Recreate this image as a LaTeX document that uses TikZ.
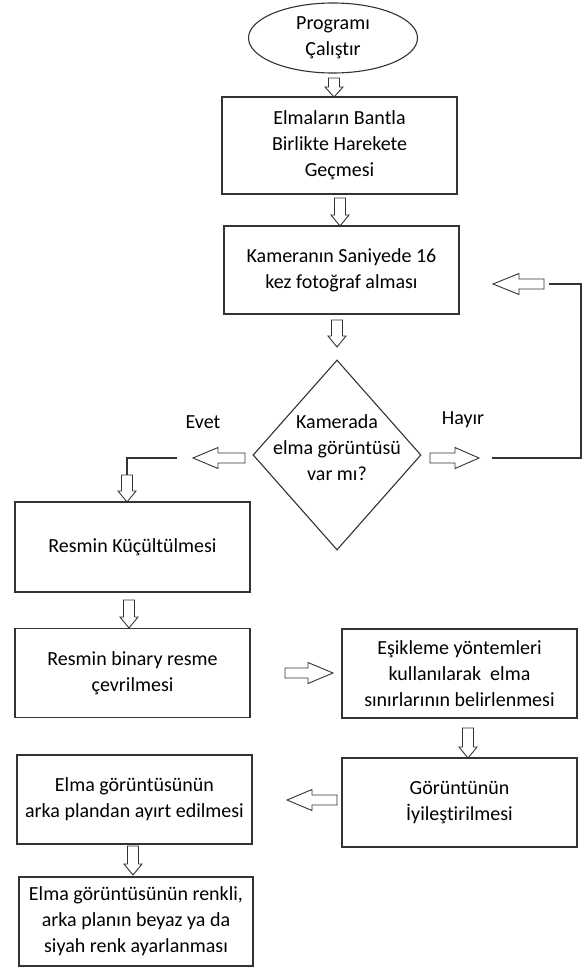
\documentclass[tikz,border=0pt]{standalone}
\usepackage{fontspec}
\setmainfont{Carlito}[Ligatures=NoCommon]
\usetikzlibrary{shapes.geometric,calc}
\tikzset{
  lc/.style={draw=black!80, line width=1.1pt},
  txt/.style={align=center, font=\fontsize{20}{26}\selectfont, inner sep=0pt, text=black},
  box/.style={lc, txt, rectangle, minimum width=235pt, minimum height=89pt},
  barrow/.style={draw=black!80, line width=0.9pt, fill=white, line join=miter},
  conn/.style={draw=black!80, line width=1.1pt},
}
\newcommand\blockarr[5]{%
  \coordinate (bah) at ($(#2)!#5!(#1)$);
  \draw[barrow] ($(#1)!#3!90:(#2)$) -- ($(bah)!#3!-90:(#1)$) -- ($(bah)!#4!-90:(#1)$) -- (#2) -- ($(bah)!#4!90:(#1)$) -- ($(bah)!#3!90:(#1)$) -- ($(#1)!#3!-90:(#2)$) -- cycle;}
\begin{document}
\begin{tikzpicture}[x=1pt,y=-1pt]
\useasboundingbox (0,0) rectangle (583,969);
% nodes
\node[lc, ellipse, minimum width=169pt, minimum height=70pt, txt] (ell) at (333,38) {Programı\\Çalıştır};
\node[box, minimum height=97pt] (b1) at (339.5,145.5) {Elmaların Bantla\\Birlikte Harekete\\Geçmesi};
\node[box, minimum height=88pt] (b2) at (341.5,270) {Kameranın Saniyede 16\\kez fotoğraf alması};
\node[lc, diamond, minimum width=168pt, minimum height=190pt, inner sep=0pt] (dia) at (337,455) {};
\node[txt] (diat) at (337,448) {Kamerada\\elma görüntüsü\\var mı?};
\node[txt] (evet) at (203,422) {Evet};
\node[txt] (hayir) at (463,420) {Hayır};
\node[box, minimum height=90pt] (b3) at (132.5,547) {Resmin Küçültülmesi};
\node[box] (b4) at (132.5,673) {Resmin binary resme\\çevrilmesi};
\node[box] (b5) at (459.5,673.5) {Eşikleme yöntemleri\\kullanılarak\ \ elma\\sınırlarının belirlenmesi};
\node[box] (b6) at (459.5,802.5) {Görüntünün\\İyileştirilmesi};
\node[box] (b7) at (134.5,799.5) {Elma görüntüsünün\\arka plandan ayırt edilmesi};
\node[box, minimum width=234pt] (b8) at (136,921.5) {Elma görüntüsünün renkli,\\arka planın beyaz ya da\\siyah renk ayarlanması};
% arrow end coordinates
\coordinate (a1s) at (334,78);  \coordinate (a1e) at (334,97);
\coordinate (a2s) at (340,198); \coordinate (a2e) at (340,226);
\coordinate (a3s) at (337,320); \coordinate (a3e) at (337,347);
\coordinate (a4s) at (245,458); \coordinate (a4e) at (193,458);
\coordinate (a5s) at (430,458); \coordinate (a5e) at (479,458);
\coordinate (a6s) at (544,284); \coordinate (a6e) at (493,284);
\coordinate (a7s) at (127,475); \coordinate (a7e) at (127,502);
\coordinate (a8s) at (129,600); \coordinate (a8e) at (129,628);
\coordinate (a9s) at (285,673); \coordinate (a9e) at (333,673);
\coordinate (a10s) at (468,728); \coordinate (a10e) at (468,758);
\coordinate (a11s) at (337,800); \coordinate (a11e) at (287,800);
\coordinate (a12s) at (133,846); \coordinate (a12e) at (133,875);
% block arrows
\blockarr{a1s}{a1e}{5.5pt}{9pt}{10pt}
\blockarr{a2s}{a2e}{5.5pt}{9pt}{11pt}
\blockarr{a3s}{a3e}{5.5pt}{9pt}{11pt}
\blockarr{a4s}{a4e}{5pt}{10.5pt}{25pt}
\blockarr{a5s}{a5e}{5pt}{10.5pt}{24pt}
\blockarr{a6s}{a6e}{5pt}{10.5pt}{26pt}
\blockarr{a7s}{a7e}{5.5pt}{9pt}{11pt}
\blockarr{a8s}{a8e}{5.5pt}{9pt}{11pt}
\blockarr{a9s}{a9e}{5pt}{10.5pt}{25pt}
\blockarr{a10s}{a10e}{5.5pt}{9pt}{11pt}
\blockarr{a11s}{a11e}{5pt}{10.5pt}{25pt}
\blockarr{a12s}{a12e}{5.5pt}{9pt}{11pt}
% plain lines
\coordinate (ev0) at (177,458);
\coordinate (ev1) at (127,458);
\draw[conn] (ev0) -- (ev1) -- (a7s);
\coordinate (fb0) at (492,458);
\coordinate (fb1) at (581,458);
\coordinate (fb2) at (581,284);
\coordinate (fb3) at (549,284);
\draw[conn] (fb0) -- (fb1) -- (fb2) -- (fb3);
\end{tikzpicture}
\end{document}
